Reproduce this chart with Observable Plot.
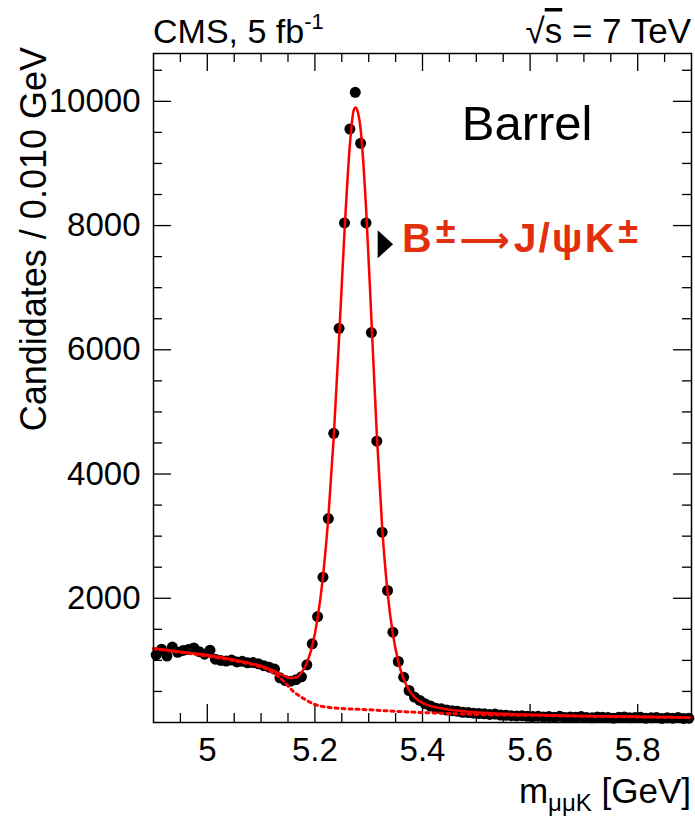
<!DOCTYPE html>
<html>
<head>
<meta charset="utf-8">
<script src="https://cdn.jsdelivr.net/npm/d3@7"></script>
<script src="https://cdn.jsdelivr.net/npm/@observablehq/plot@0.6"></script>
<style>
  html, body { margin: 0; padding: 0; background: #fff; }
  #chart { width: 695px; height: 818px; }
  svg { font-family: "Liberation Sans", Arial, Helvetica, sans-serif; }
</style>
</head>
<body>
<div id="chart"></div>
<script>
// ---------------- data ----------------
const binCenters = [
  4.905, 4.915, 4.925, 4.935, 4.945, 4.955, 4.965, 4.975, 4.985, 4.995,
  5.005, 5.015, 5.025, 5.035, 5.045, 5.055, 5.065, 5.075, 5.085, 5.095,
  5.105, 5.115, 5.125, 5.135, 5.145, 5.155, 5.165, 5.175, 5.185, 5.195,
  5.205, 5.215, 5.225, 5.235, 5.245, 5.255, 5.265, 5.275, 5.285, 5.295,
  5.305, 5.315, 5.325, 5.335, 5.345, 5.355, 5.365, 5.375, 5.385, 5.395,
  5.405, 5.415, 5.425, 5.435, 5.445, 5.455, 5.465, 5.475, 5.485, 5.495,
  5.505, 5.515, 5.525, 5.535, 5.545, 5.555, 5.565, 5.575, 5.585, 5.595,
  5.605, 5.615, 5.625, 5.635, 5.645, 5.655, 5.665, 5.675, 5.685, 5.695,
  5.705, 5.715, 5.725, 5.735, 5.745, 5.755, 5.765, 5.775, 5.785, 5.795,
  5.805, 5.815, 5.825, 5.835, 5.845, 5.855, 5.865, 5.875, 5.885, 5.895
];
const candidates = [
  1090, 1180, 1070, 1215, 1130, 1160, 1175, 1200, 1140, 1100,
  1165, 1020, 1000, 990, 1005, 975, 985, 960, 965, 945,
  915, 890, 860, 720, 675, 665, 690, 735, 928, 1266,
  1706, 2339, 3283, 4656, 6346, 8043, 9554, 10145, 9324, 8043,
  6277, 4528, 3063, 2125, 1454, 982, 729, 515, 410, 355,
  300, 265, 230, 220, 200, 190, 180, 165, 160, 150,
  145, 140, 130, 135, 120, 115, 110, 105, 110, 100,
  95, 100, 90, 95, 85, 100, 80, 90, 85, 95,
  80, 75, 90, 85, 80, 70, 85, 90, 75, 80,
  85, 70, 75, 80, 65, 75, 70, 80, 65, 70
];

// total fit (solid red)
const fitMass = [4.90, 4.95, 5.00, 5.05, 5.08, 5.10, 5.12, 5.14, 5.155, 5.165,
  5.175, 5.185, 5.195, 5.205, 5.215, 5.225, 5.235, 5.245, 5.255, 5.265,
  5.272, 5.276, 5.28, 5.285, 5.295, 5.305, 5.315, 5.325, 5.335, 5.345,
  5.355, 5.365, 5.375, 5.385, 5.395, 5.41, 5.43, 5.45, 5.50, 5.55,
  5.60, 5.70, 5.80, 5.90];
const fitTotal = [1195, 1140, 1085, 1010, 955, 910, 845, 760, 718, 725,
  800, 960, 1230, 1680, 2350, 3300, 4600, 6200, 7900, 9300,
  9850, 9900, 9820, 9550, 8300, 6500, 4650, 3150, 2100, 1420,
  980, 700, 520, 410, 340, 280, 235, 205, 165, 140,
  125, 105, 92, 82];

// background component (dotted red)
const bkgMass = [4.90, 4.95, 5.00, 5.05, 5.08, 5.10, 5.12, 5.14, 5.16, 5.18,
  5.20, 5.22, 5.25, 5.30, 5.35, 5.40, 5.45, 5.50, 5.60, 5.70, 5.80, 5.90];
const bkgValue = [1185, 1130, 1070, 995, 940, 895, 815, 680, 500, 380,
  290, 250, 225, 205, 180, 160, 145, 130, 115, 100, 90, 80];

// axis ticks
const xMajorTicks = [5, 5.2, 5.4, 5.6, 5.8];
const xMinorTicks = [4.95, 5.05, 5.1, 5.15, 5.25, 5.3, 5.35, 5.45, 5.5, 5.55, 5.65, 5.7, 5.75, 5.85];
const yMajorTicks = [2000, 4000, 6000, 8000, 10000];
const yMinorTicks = [500, 1000, 1500, 2500, 3000, 3500, 4500, 5000, 5500, 6500, 7000, 7500, 8500, 9000, 9500, 10500];

// annotation anchors (data coordinates)
const labelBarrel = {m: 5.474, n: 9370};
const labelDecay = {m: 5.363, n: 7560};
const markerDecay = [{m: 5.331, n: 7700}];

// ---------------- layout ----------------
const W = 695, H = 818;
const mL = 153, mR = 4, mT = 53, mB = 96;
const innerW = W - mL - mR, innerH = H - mT - mB;
const MAJ = 18, MIN = 9;

const points = binCenters.map((m, i) => ({m, n: candidates[i]}));
const fit = fitMass.map((m, i) => ({m, n: fitTotal[i]}));
const bkg = bkgMass.map((m, i) => ({m, n: bkgValue[i]}));

const narrowTriangle = {
  draw(ctx, size) {
    const r = Math.sqrt(size / Math.PI);
    ctx.moveTo(-r * 0.55, -r);
    ctx.lineTo(r * 0.55, 0);
    ctx.lineTo(-r * 0.55, r);
    ctx.closePath();
  }
};

const plot = Plot.plot({
  width: W, height: H,
  marginLeft: mL, marginRight: mR, marginTop: mT, marginBottom: mB,
  style: {background: "white", color: "black", fontFamily: "'Liberation Sans', Arial, sans-serif", overflow: "visible"},
  x: {domain: [4.9, 5.9]},
  y: {domain: [0, 10770]},
  marks: [
    Plot.axisX(xMajorTicks, {tickSize: 0, tickPadding: 15, fontSize: 33, tickFormat: d => String(d), label: null}),
    Plot.axisY(yMajorTicks, {tickSize: 0, tickPadding: 13, fontSize: 33, tickFormat: d => String(d), label: null}),
    // ROOT-style inward ticks on all four sides
    Plot.tickX(xMajorTicks, {x: d => d, insetTop: innerH - MAJ, stroke: "black", strokeWidth: 1.3}),
    Plot.tickX(xMajorTicks, {x: d => d, insetBottom: innerH - MAJ, stroke: "black", strokeWidth: 1.3}),
    Plot.tickX(xMinorTicks, {x: d => d, insetTop: innerH - MIN, stroke: "black", strokeWidth: 1.3}),
    Plot.tickX(xMinorTicks, {x: d => d, insetBottom: innerH - MIN, stroke: "black", strokeWidth: 1.3}),
    Plot.tickY(yMajorTicks, {y: d => d, insetRight: innerW - MAJ, stroke: "black", strokeWidth: 1.3}),
    Plot.tickY(yMajorTicks, {y: d => d, insetLeft: innerW - MAJ, stroke: "black", strokeWidth: 1.3}),
    Plot.tickY(yMinorTicks, {y: d => d, insetRight: innerW - MIN, stroke: "black", strokeWidth: 1.3}),
    Plot.tickY(yMinorTicks, {y: d => d, insetLeft: innerW - MIN, stroke: "black", strokeWidth: 1.3}),
    Plot.dot(points, {x: "m", y: "n", r: 5.5, fill: "black", stroke: "none"}),
    Plot.line(bkg, {x: "m", y: "n", stroke: "#ff0000", strokeWidth: 3, strokeDasharray: "3,4", curve: "monotone-x"}),
    Plot.line(fit, {x: "m", y: "n", stroke: "#ff0000", strokeWidth: 2.5, curve: "monotone-x"}),
    Plot.dot(markerDecay, {x: "m", y: "n", r: 14, symbol: narrowTriangle, fill: "black", stroke: "none"}),
    Plot.frame({stroke: "black", strokeWidth: 1.5})
  ]
});

document.getElementById("chart").appendChild(plot);

// ---------------- text annotations ----------------
const sx = plot.scale("x"), sy = plot.scale("y");
const svg = d3.select(plot);
const FONT = "'Liberation Sans', Arial, sans-serif";

// top-left: CMS, 5 fb^-1
const t1 = svg.append("text").attr("x", mL).attr("y", 43).attr("text-anchor", "start")
  .attr("font-size", 34).attr("font-family", FONT).attr("fill", "black");
t1.append("tspan").text("CMS, 5 fb");
t1.append("tspan").attr("font-size", 22).attr("dy", -14).text("-1");

// top-right: sqrt(s) = 7 TeV
const t2 = svg.append("text").attr("x", W - mR).attr("y", 43).attr("text-anchor", "end")
  .attr("font-size", 35).attr("font-family", FONT).attr("fill", "black");
t2.append("tspan").text("\u221A");
t2.append("tspan").attr("text-decoration", "overline").text("s");
t2.append("tspan").text(" = 7 TeV");

// y title
svg.append("text")
  .attr("transform", `translate(46,${mT - 6}) rotate(-90)`)
  .attr("text-anchor", "end").attr("font-size", 36).attr("font-family", FONT).attr("fill", "black")
  .text("Candidates / 0.010 GeV");

// x title: m_{mu mu K} [GeV]
const tx = svg.append("text").attr("x", W - mR).attr("y", 803).attr("text-anchor", "end")
  .attr("font-size", 35).attr("font-family", FONT).attr("fill", "black");
tx.append("tspan").text("m");
tx.append("tspan").attr("font-size", 24).attr("dy", 8).text("\u03BC\u03BCK");
tx.append("tspan").attr("dy", -8).text(" [GeV]");

// Barrel
svg.append("text").attr("x", sx.apply(labelBarrel.m)).attr("y", sy.apply(labelBarrel.n))
  .attr("text-anchor", "start")
  .attr("font-size", 49).attr("font-family", FONT).attr("fill", "black").text("Barrel");

// decay label
const td = svg.append("text").attr("x", sx.apply(labelDecay.m)).attr("y", sy.apply(labelDecay.n))
  .attr("text-anchor", "start").attr("letter-spacing", 2)
  .attr("font-size", 41).attr("font-weight", "bold").attr("font-family", FONT).attr("fill", "#e3300c");
td.append("tspan").text("B");
td.append("tspan").attr("font-size", 36).attr("dy", -9).attr("dx", 2).text("\u00B1");
td.append("tspan").attr("dy", 9).attr("dx", 2).attr("font-family", "'DejaVu Sans', sans-serif").attr("font-size", 35).text("\u27F6");
td.append("tspan").attr("dx", 2).text("J/\u03C8K");
td.append("tspan").attr("font-size", 36).attr("dy", -9).attr("dx", 2).text("\u00B1");
</script>
</body>
</html>
